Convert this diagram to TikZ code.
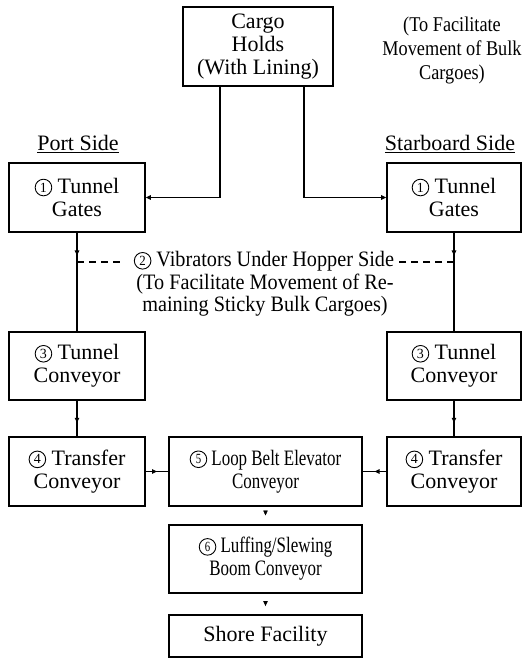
\documentclass[tikz,border=0pt]{standalone}
\usepackage{fontspec}
\setmainfont{Liberation Serif}
\newfontfamily\condfont[FakeStretch=0.77]{Liberation Serif}
\newfontfamily\semicond[FakeStretch=0.92]{Liberation Serif}
\newfontfamily\notefont[FakeStretch=0.87]{Liberation Serif}
\usetikzlibrary{arrows.meta,decorations.markings}
\newcommand\cnum[1]{\tikz[baseline=0pt]{\draw[line width=0.9pt, draw=black, dash pattern=] (0pt,6pt) circle[radius=8.3pt]; \node[draw=none, inner sep=0pt, minimum width=0pt, minimum height=0pt, font=\fontsize{14}{14}\selectfont, anchor=center] at (0pt,6pt) {#1};}}
\tikzset{
  box/.style={draw, line width=1.6pt, inner sep=0pt, align=center, font=\fontsize{22}{23}\selectfont},
  cbox/.style={box, font=\condfont\fontsize{22}{23}\selectfont},
  conn/.style={line width=1.2pt},
  tip/.style={-{Triangle[length=5pt,width=4.5pt]}},
  midarrow/.style={postaction={decorate}, decoration={markings, mark=at position #1 with {\arrow{Triangle[length=5pt,width=4.5pt]}}}},
  dashline/.style={line width=1.2pt, dash pattern=on 7pt off 5pt},
  lbl/.style={inner sep=0pt, align=center},
}
\begin{document}
\begin{tikzpicture}[x=1pt,y=-1pt]
\useasboundingbox (0,0) rectangle (526,658);
% boxes
\node[box, minimum width=150pt, minimum height=79pt] (cargo) at (258,46.5) {Cargo\\Holds\\(With Lining)};
\node[lbl, font=\notefont\fontsize{21}{24}\selectfont] (note) at (452,50) {(To Facilitate\\Movement of Bulk\\Cargoes)};
\node[lbl, font=\fontsize{22}{24}\selectfont] (port) at (78,144) {\underline{Port Side}};
\node[lbl, font=\fontsize{22}{24}\selectfont] (star) at (450,144) {\underline{Starboard Side}};

\node[box, minimum width=136pt, minimum height=69pt] (gatesL) at (77,197.5) {\cnum{1} Tunnel\\Gates};
\node[box, minimum width=134pt, minimum height=69pt] (gatesR) at (454,197.5) {\cnum{1} Tunnel\\Gates};

\node[lbl, font=\semicond\fontsize{22}{23}\selectfont] (vib) at (264,261.5) {\cnum{2} Vibrators Under Hopper Side};
\node[lbl, font=\semicond\fontsize{22}{22}\selectfont] (vibsub) at (265,295) {(To Facilitate Movement of Re-\\maining Sticky Bulk Cargoes)};

\node[box, minimum width=136pt, minimum height=68pt] (convL) at (77,366) {\cnum{3} Tunnel\\Conveyor};
\node[box, minimum width=134pt, minimum height=68pt] (convR) at (454,366) {\cnum{3} Tunnel\\Conveyor};

\node[box, minimum width=136pt, minimum height=69pt] (transL) at (77,471.5) {\cnum{4} Transfer\\Conveyor};
\node[cbox, minimum width=193pt, minimum height=69pt] (loop) at (265.5,471.5) {\cnum{5} Loop Belt Elevator\\Conveyor};
\node[box, minimum width=134pt, minimum height=69pt] (transR) at (454,471.5) {\cnum{4} Transfer\\Conveyor};

\node[cbox, minimum width=193pt, minimum height=68pt] (luff) at (265.5,559) {\cnum{6} Luffing/Slewing\\Boom Conveyor};
\node[box, minimum width=193pt, minimum height=42pt] (shore) at (265.5,636) {Shore Facility};

% connectors
\draw[conn, tip] ([xshift=-38pt]cargo.south) |- (gatesL.east);
\draw[conn, tip] ([xshift=46pt]cargo.south) |- (gatesR.west);
\draw[conn, midarrow=0.23] (gatesL) -- (convL);
\draw[conn, midarrow=0.23] (gatesR) -- (convR);
\coordinate (vL) at (77,262);
\coordinate (vR) at (454,262);
\draw[dashline, shorten >=12pt] (vL) -- (vL -| vib.west);
\draw[dashline, shorten >=5pt] (vR) -- (vR -| vib.east);
\draw[conn, midarrow=0.62] (convL) -- (transL);
\draw[conn, midarrow=0.62] (convR) -- (transR);
\draw[conn, midarrow=0.5] (transL) -- (loop);
\draw[conn, midarrow=0.5] (transR) -- (loop);
\path[midarrow=0.5] (loop) -- (luff);
\path[midarrow=0.6] (luff) -- (shore);
\end{tikzpicture}
\end{document}
